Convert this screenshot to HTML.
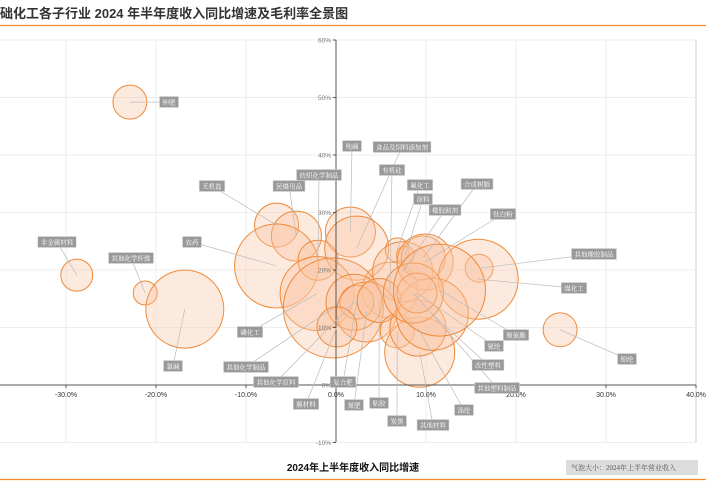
<!DOCTYPE html>
<html><head><meta charset="utf-8"><style>
body{margin:0;background:#fff;width:706px;height:485px;overflow:hidden;font-family:"Liberation Sans","Noto Sans CJK SC",sans-serif;}
</style></head><body>
<svg id="chart" width="706" height="485" xmlns="http://www.w3.org/2000/svg">
<text x="0" y="18" font-size="13" font-weight="bold" fill="#333" font-family="Liberation Sans, Noto Sans CJK SC, sans-serif">础化工各子行业 2024 年半年度收入同比增速及毛利率全景图</text>
<line x1="0" y1="25.5" x2="706" y2="25.5" stroke="#f08a30" stroke-width="1.2"/>
<line x1="0" y1="479.5" x2="706" y2="479.5" stroke="#f08a30" stroke-width="1.2"/>
<g id="grid"></g><g id="bubbles"></g><g id="axes"></g><g id="leaders"></g><g id="labels"></g>
<text x="353" y="471" text-anchor="middle" font-size="10" font-weight="bold" fill="#111">2024年上半年度收入同比增速</text>
<rect x="566" y="460" width="132" height="15" fill="#dcdcdc"/>
<text x="571" y="470" font-size="7" fill="#555" font-family="Liberation Serif, Noto Serif CJK SC, serif">气泡大小：2024年上半年营业收入</text>
</svg>
<script>
const names=["钾肥","非金属材料","其他化学纤维","氯碱","无机盐","民爆用品","农药","纺织化学制品","纯碱","食品及饲料添加剂","有机硅","氟化工","涂料","橡胶助剂","合成树脂","钛白粉","其他橡胶制品","煤化工","锦纶","磷化工","其他化学制品","其他化学原料","复合肥","氮肥","粘胶","膜材料","炭黑","其他材料","涤纶","改性塑料","其他塑料制品","氨纶","聚氨酯"];
const growth=[-22.9,-28.8,-21.2,-16.8,-6.6,-4.4,-6.6,-2.0,1.6,2.3,6.0,6.8,7.7,7.4,9.7,9.9,15.9,15.8,24.9,-2.1,-0.3,2.0,2.3,3.4,4.8,0.1,6.8,9.3,9.1,10.7,8.6,9.0,11.5];
const margin=[49.2,19.1,16.0,13.2,27.8,25.9,20.7,21.7,26.6,23.8,16.5,23.5,22.6,19.7,22.1,21.4,20.3,18.4,9.6,15.9,13.4,14.4,14.4,12.7,14.7,10.1,9.4,5.7,9.9,12.3,16.0,16.0,16.5];
const revenue=[72,64,36,380,121,156,441,100,156,256,196,36,20,225,121,196,49,400,72,342,625,196,72,225,121,100,72,306,196,324,225,100,529];
const labelX=[169,57,131,173,212,289,192,319,352,402,392,420,423,445,477,503,594,574,627,250,246,276,343,354,379,306,397,433,464,488,497,494,516];
const labelY=[102,242,258,366,186,186,242,175,146,147,170,185,199,210,184,214,254,288,359,332,367,382,382,405,403,404,421,425,410,365,388,346,335];
const xTicks=[-30,-20,-10,0,10,20,30,40];
const yTicks=[60,50,40,30,20,10,0,-10];
const NS="http://www.w3.org/2000/svg";
const xs=v=>336+v*9, ys=v=>385-v*5.75, rs=v=>Math.sqrt(v)*2;
function mk(tag,attrs,parent){const e=document.createElementNS(NS,tag);for(const k in attrs)e.setAttribute(k,attrs[k]);document.getElementById(parent).appendChild(e);return e;}
xTicks.forEach(t=>{const l=mk('line',{x1:xs(t),y1:40,x2:xs(t),y2:442,stroke:t===40?'#ccc':'#eee','stroke-width':1},'grid');

});
yTicks.forEach(t=>{const l=mk('line',{x1:0,y1:ys(t),x2:696,y2:ys(t),stroke:'#eee','stroke-width':1},'grid');

});
names.forEach((n,i)=>{const c=mk('circle',{cx:xs(growth[i]),cy:ys(margin[i]),r:rs(revenue[i]),fill:'rgba(248,196,160,0.35)',stroke:'#ee8a3a','stroke-width':1},'bubbles');

});
const xa=mk('line',{x1:0,y1:385,x2:696,y2:385,stroke:'#555','stroke-width':1},'axes');


const ya=mk('line',{x1:336,y1:40,x2:336,y2:442,stroke:'#555','stroke-width':1},'axes');


xTicks.forEach(t=>{const tk=mk('line',{x1:xs(t),y1:385,x2:xs(t),y2:388,stroke:'#555'},'axes');


const tx=mk('text',{x:xs(t),y:397,'text-anchor':'middle','font-size':7,fill:'#333'},'axes');tx.textContent=t.toFixed(1)+'%';

});
yTicks.forEach(t=>{const tk=mk('line',{x1:333,y1:ys(t),x2:336,y2:ys(t),stroke:'#555'},'axes');


const tx=mk('text',{x:331,y:ys(t)+2.5,'text-anchor':'end','font-size':6.5,fill:'#777'},'axes');tx.textContent=t+'%';

});
names.forEach((n,i)=>{const ln=mk('line',{x1:labelX[i],y1:labelY[i],x2:xs(growth[i]),y2:ys(margin[i]),stroke:'#bbb','stroke-width':0.7},'leaders');


const w=n.length*6.5+6;
const r=mk('rect',{x:labelX[i]-w/2,y:labelY[i]-5.5,width:w,height:11,fill:'#999',stroke:'#ddd','stroke-width':0.5},'labels');


const t=mk('text',{x:labelX[i],y:labelY[i]+2.3,'text-anchor':'middle','font-size':6.5,fill:'#fff','font-family':'Liberation Serif, Noto Serif CJK SC, serif'},'labels');t.textContent=n;

});
</script>
</body></html>
